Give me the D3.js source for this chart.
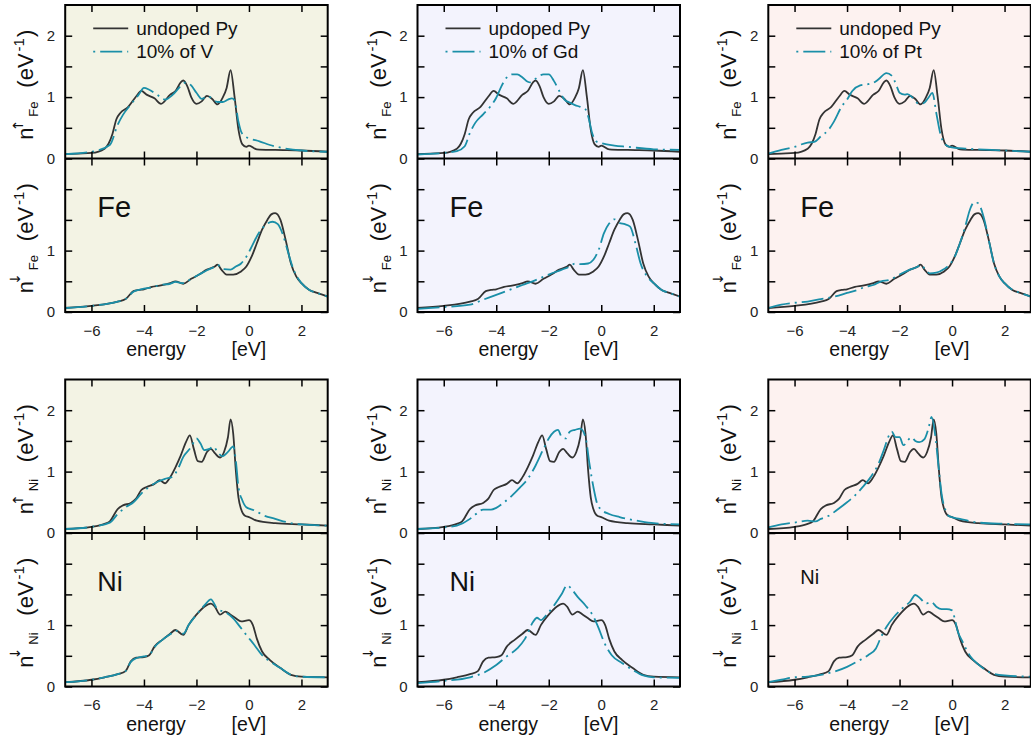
<!DOCTYPE html>
<html>
<head>
<meta charset="utf-8">
<script src="https://cdn.jsdelivr.net/npm/d3@7"></script>
<style>
  body { margin: 0; background: #fff; }
  svg { display: block; font-family: "Liberation Sans", Arial, Helvetica, sans-serif; }
</style>
</head>
<body>
<svg id="chart" width="1031" height="741"></svg>
<script>
// ---- data: [energy (eV), partial DOS (1/eV)] ----
const columns = ["V", "Gd", "Pt"];
const refLabels = ["undoped Py", "updoped Py", "undoped Py"];
const dopLabels = ["10% of V", "10% of Gd", "10% of Pt"];
const elements = ["Fe", "Ni"];
const energyTicks = [-6, -4, -2, 0, 2];
const dosTicks = [0, 0.5, 1, 1.5, 2];

// undoped Py (same in every column)
const pyFeUp = [[-7,0.07],[-6.5,0.08],[-6,0.09],[-5.5,0.16],[-5.35,0.24],[-5.2,0.40],[-5.05,0.64],[-4.9,0.74],[-4.6,0.84],[-4.3,1.01],[-4.1,1.10],[-3.9,1.04],[-3.6,0.98],[-3.35,0.89],[-3.0,1.04],[-2.8,1.10],[-2.6,1.24],[-2.5,1.27],[-2.35,1.18],[-2.2,1.00],[-2.0,0.89],[-1.8,0.93],[-1.6,1.02],[-1.4,0.97],[-1.2,0.88],[-1.0,0.99],[-0.85,1.15],[-0.7,1.44],[-0.55,1.01],[-0.4,0.47],[-0.25,0.23],[-0.1,0.19],[0,0.21],[0.3,0.15],[1,0.14],[2,0.13],[3,0.11]];
const pyFeDn = [[-7,0.065],[-6,0.10],[-5,0.17],[-4.7,0.21],[-4.4,0.34],[-4.2,0.36],[-4.0,0.37],[-3.7,0.41],[-3.4,0.43],[-3.0,0.47],[-2.8,0.50],[-2.5,0.46],[-2.2,0.54],[-1.9,0.61],[-1.6,0.69],[-1.3,0.74],[-1.2,0.77],[-1.05,0.69],[-0.85,0.61],[-0.6,0.61],[-0.3,0.66],[-0.1,0.74],[0.1,0.90],[0.3,1.12],[0.5,1.34],[0.7,1.50],[0.85,1.59],[1.0,1.61],[1.2,1.50],[1.4,1.17],[1.6,0.79],[1.8,0.58],[2.0,0.47],[2.3,0.36],[2.6,0.31],[3.0,0.25]];
const pyNiUp = [[-7,0.065],[-6,0.10],[-5.5,0.15],[-5.3,0.19],[-5.0,0.39],[-4.8,0.45],[-4.5,0.49],[-4.3,0.56],[-4.1,0.70],[-3.9,0.75],[-3.6,0.80],[-3.4,0.86],[-3.2,0.81],[-3.0,0.91],[-2.8,1.07],[-2.6,1.26],[-2.4,1.48],[-2.25,1.59],[-2.1,1.37],[-1.95,1.17],[-1.8,1.16],[-1.6,1.32],[-1.45,1.37],[-1.3,1.30],[-1.1,1.23],[-0.95,1.32],[-0.8,1.56],[-0.7,1.85],[-0.6,1.62],[-0.5,1.02],[-0.4,0.58],[-0.3,0.39],[-0.15,0.28],[0,0.26],[0.3,0.20],[1,0.16],[2,0.14],[3,0.12]];
const pyNiDn = [[-7,0.07],[-6,0.11],[-5.5,0.15],[-5.0,0.20],[-4.7,0.25],[-4.5,0.41],[-4.3,0.47],[-4.0,0.48],[-3.8,0.51],[-3.6,0.65],[-3.3,0.76],[-3.0,0.86],[-2.8,0.92],[-2.5,0.84],[-2.3,1.00],[-2.0,1.17],[-1.7,1.30],[-1.45,1.35],[-1.3,1.30],[-1.1,1.17],[-0.9,1.22],[-0.7,1.17],[-0.5,1.11],[-0.3,1.06],[0,1.08],[0.15,1.00],[0.3,0.78],[0.5,0.57],[0.8,0.43],[1.2,0.30],[1.6,0.19],[2.0,0.16],[3.0,0.15]];

// 10% of V
const vFeUp = [[-7,0.07],[-6,0.11],[-5.3,0.22],[-5.0,0.55],[-4.8,0.71],[-4.5,0.88],[-4.2,1.04],[-4.0,1.15],[-3.8,1.12],[-3.5,1.04],[-3.2,0.96],[-2.9,1.04],[-2.6,1.18],[-2.4,1.24],[-2.2,1.19],[-2.0,1.07],[-1.8,0.97],[-1.6,1.01],[-1.4,0.98],[-1.2,0.92],[-1.0,0.92],[-0.8,0.96],[-0.65,0.98],[-0.55,0.95],[-0.4,0.60],[-0.3,0.44],[-0.15,0.36],[0,0.33],[0.4,0.28],[0.8,0.22],[1.3,0.17],[2,0.13],[3,0.11]];
const vFeDn = [[-7,0.065],[-6,0.10],[-5,0.17],[-4.7,0.21],[-4.4,0.33],[-4.2,0.36],[-4.0,0.38],[-3.7,0.40],[-3.4,0.44],[-3.0,0.46],[-2.8,0.49],[-2.5,0.47],[-2.2,0.54],[-1.9,0.61],[-1.6,0.68],[-1.3,0.74],[-1.2,0.77],[-1.0,0.70],[-0.7,0.69],[-0.5,0.74],[-0.3,0.79],[-0.1,0.90],[0.1,1.06],[0.3,1.23],[0.5,1.36],[0.7,1.44],[0.9,1.47],[1.1,1.43],[1.3,1.25],[1.5,0.96],[1.7,0.69],[2.0,0.47],[2.3,0.36],[2.6,0.31],[3.0,0.25]];
const vNiUp = [[-7,0.065],[-6,0.10],[-5.3,0.17],[-5.0,0.31],[-4.7,0.42],[-4.4,0.50],[-4.1,0.64],[-3.8,0.75],[-3.5,0.83],[-3.2,0.88],[-2.9,0.92],[-2.7,1.05],[-2.5,1.24],[-2.2,1.40],[-2.0,1.54],[-1.85,1.46],[-1.7,1.35],[-1.5,1.37],[-1.35,1.41],[-1.2,1.32],[-1.0,1.25],[-0.8,1.32],[-0.6,1.41],[-0.5,1.18],[-0.4,0.75],[-0.25,0.53],[-0.1,0.42],[0.2,0.37],[0.6,0.28],[1.0,0.23],[1.5,0.17],[2.0,0.14],[3,0.12]];
const vNiDn = [[-7,0.07],[-6,0.11],[-5.5,0.15],[-5.0,0.20],[-4.7,0.25],[-4.5,0.40],[-4.3,0.46],[-4.0,0.49],[-3.8,0.51],[-3.6,0.64],[-3.3,0.76],[-3.0,0.85],[-2.8,0.91],[-2.5,0.86],[-2.3,1.00],[-2.0,1.17],[-1.7,1.32],[-1.45,1.42],[-1.2,1.26],[-0.9,1.21],[-0.6,1.11],[-0.3,0.95],[-0.1,0.84],[0.2,0.68],[0.5,0.51],[0.8,0.41],[1.2,0.30],[1.6,0.19],[2.0,0.16],[3.0,0.15]];

// 10% of Gd
const gdFeUp = [[-7,0.065],[-6,0.09],[-5.5,0.12],[-5.2,0.20],[-5.0,0.42],[-4.8,0.58],[-4.5,0.72],[-4.2,0.86],[-4.0,0.99],[-3.8,1.18],[-3.6,1.32],[-3.4,1.37],[-3.2,1.37],[-3.0,1.32],[-2.8,1.25],[-2.7,1.24],[-2.5,1.30],[-2.2,1.37],[-2.0,1.37],[-1.8,1.26],[-1.6,1.10],[-1.4,0.96],[-1.2,0.91],[-1.0,0.87],[-0.8,0.84],[-0.6,0.80],[-0.5,0.69],[-0.35,0.42],[-0.2,0.28],[0,0.25],[0.5,0.21],[1,0.19],[2,0.15],[3,0.14]];
const gdFeDn = [[-7,0.05],[-6,0.08],[-5,0.12],[-4.5,0.20],[-4.0,0.28],[-3.5,0.36],[-3.0,0.44],[-2.5,0.52],[-2.0,0.61],[-1.5,0.69],[-1.2,0.74],[-1.0,0.79],[-0.8,0.78],[-0.5,0.79],[-0.3,0.85],[-0.1,1.01],[0.1,1.28],[0.3,1.44],[0.5,1.51],[0.7,1.45],[0.9,1.43],[1.1,1.39],[1.3,1.12],[1.5,0.79],[1.8,0.55],[2.0,0.47],[2.3,0.36],[2.6,0.31],[3.0,0.25]];
const gdNiUp = [[-7,0.065],[-6,0.09],[-5.5,0.12],[-5.0,0.23],[-4.8,0.30],[-4.5,0.38],[-4.2,0.38],[-4.0,0.41],[-3.7,0.50],[-3.4,0.61],[-3.1,0.74],[-2.8,0.88],[-2.5,1.10],[-2.2,1.37],[-2.0,1.54],[-1.8,1.65],[-1.65,1.68],[-1.5,1.56],[-1.35,1.54],[-1.2,1.65],[-1.0,1.68],[-0.8,1.70],[-0.6,1.56],[-0.45,1.13],[-0.3,0.75],[-0.15,0.47],[0,0.38],[0.3,0.31],[0.7,0.26],[1.0,0.23],[1.5,0.19],[2.0,0.16],[3,0.14]];
const gdNiDn = [[-7,0.054],[-6,0.09],[-5,0.15],[-4.5,0.22],[-4.0,0.35],[-3.6,0.49],[-3.2,0.62],[-2.9,0.78],[-2.6,1.05],[-2.45,1.12],[-2.3,1.08],[-2.1,1.16],[-1.8,1.32],[-1.5,1.51],[-1.3,1.65],[-1.1,1.57],[-0.9,1.46],[-0.6,1.32],[-0.3,1.14],[-0.1,0.95],[0.1,0.73],[0.4,0.51],[0.8,0.38],[1.2,0.27],[1.6,0.18],[2.0,0.15],[3.0,0.14]];

// 10% of Pt
const ptFeUp = [[-7,0.08],[-6.5,0.14],[-6,0.19],[-5.5,0.26],[-5.25,0.27],[-5.0,0.36],[-4.7,0.47],[-4.5,0.60],[-4.2,0.85],[-4.0,0.96],[-3.8,1.10],[-3.5,1.19],[-3.2,1.21],[-3.0,1.23],[-2.8,1.29],[-2.5,1.39],[-2.3,1.35],[-2.1,1.17],[-2.0,1.07],[-1.8,1.04],[-1.7,1.05],[-1.5,0.99],[-1.3,0.90],[-1.1,0.90],[-0.9,0.99],[-0.75,1.07],[-0.6,0.74],[-0.45,0.41],[-0.3,0.25],[-0.1,0.19],[0.5,0.16],[1,0.15],[2,0.13],[3,0.11]];
const ptFeDn = [[-7,0.065],[-6.5,0.12],[-6,0.15],[-5.5,0.17],[-5,0.21],[-4.5,0.25],[-4.0,0.31],[-3.6,0.36],[-3.3,0.41],[-3.0,0.44],[-2.7,0.50],[-2.4,0.52],[-2.0,0.61],[-1.6,0.69],[-1.3,0.74],[-1.2,0.77],[-1.05,0.71],[-0.85,0.63],[-0.6,0.64],[-0.3,0.70],[-0.1,0.77],[0.1,0.90],[0.3,1.12],[0.5,1.39],[0.7,1.69],[0.85,1.79],[1.0,1.77],[1.2,1.55],[1.4,1.17],[1.6,0.79],[1.8,0.58],[2.0,0.47],[2.3,0.36],[2.6,0.31],[3.0,0.25]];
const ptNiUp = [[-7,0.09],[-6.5,0.14],[-6,0.17],[-5.5,0.20],[-5.2,0.19],[-5.0,0.23],[-4.7,0.28],[-4.4,0.37],[-4.0,0.50],[-3.7,0.61],[-3.4,0.75],[-3.1,0.91],[-2.8,1.13],[-2.6,1.35],[-2.4,1.59],[-2.3,1.65],[-2.15,1.56],[-2.0,1.56],[-1.85,1.43],[-1.7,1.50],[-1.55,1.56],[-1.4,1.50],[-1.25,1.48],[-1.05,1.53],[-0.9,1.70],[-0.78,1.89],[-0.65,1.62],[-0.5,1.02],[-0.4,0.64],[-0.25,0.37],[-0.1,0.27],[0.3,0.23],[1,0.17],[2,0.15],[3,0.14]];
const ptNiDn = [[-7,0.07],[-6.5,0.11],[-6,0.15],[-5.5,0.16],[-5,0.19],[-4.5,0.24],[-4.0,0.32],[-3.6,0.41],[-3.2,0.51],[-2.9,0.62],[-2.7,0.81],[-2.5,0.97],[-2.2,1.14],[-1.9,1.27],[-1.6,1.38],[-1.4,1.49],[-1.2,1.43],[-1.0,1.35],[-0.8,1.38],[-0.6,1.30],[-0.4,1.26],[-0.2,1.26],[0,1.24],[0.1,1.11],[0.2,0.92],[0.4,0.73],[0.7,0.49],[1.0,0.36],[1.5,0.22],[2.0,0.18],[3.0,0.16]];

const undoped = { Fe: [pyFeUp, pyFeDn], Ni: [pyNiUp, pyNiDn] };
const doped = {
  Fe: [[vFeUp, vFeDn], [gdFeUp, gdFeDn], [ptFeUp, ptFeDn]],
  Ni: [[vNiUp, vNiDn], [gdNiUp, gdNiDn], [ptNiUp, ptNiDn]]
};

// ---- layout ----
const colLeft = [65.2, 417.5, 768.3];
const plotW = 262.5;
const rowTop = [5, 379.5];
const panelH = 153.5;
const bgColors = ["#f3f3e4", "#f3f3fd", "#fdf2f0"];
const refColor = "#333333";
const dopColor = "#1a8fa8";
const dashDot = "22,5,2,5";
const elemSize = [[29, 29, 29], [27, 27, 20]];

const svg = d3.select("#chart");
const defs = svg.append("defs");
let clipId = 0;

function yLabel(g, x0, cy, sub, up) {
  const t = g.append("g").attr("transform", `translate(${x0},${cy}) rotate(-90)`)
    .attr("fill", "#111");
  t.append("text").attr("x", -56).attr("y", 0).attr("font-size", 22).text("n");
  t.append("text").attr("x", -47.5).attr("y", up ? -10 : -13).attr("font-size", 14)
    .attr("font-family", "DejaVu Sans, sans-serif")
    .text(up ? "\u2191" : "\u2193");
  t.append("text").attr("x", -33).attr("y", 5).attr("font-size", 13).text(sub);
  const u = t.append("text").attr("x", 54).attr("y", 0).attr("font-size", 22)
    .attr("text-anchor", "end");
  u.append("tspan").text("(eV");
  u.append("tspan").attr("font-size", 15).attr("dx", 2).attr("dy", -9).text("-1");
  u.append("tspan").attr("dx", 1).attr("dy", 9).text(")");
}

columns.forEach((col, c) => {
  const xL = colLeft[c];
  const x = d3.scaleLinear().domain([-7, 3]).range([xL, xL + plotW]);

  elements.forEach((el, r) => {
    const top = rowTop[r];
    const g = svg.append("g");
    g.append("rect").attr("x", xL).attr("y", top).attr("width", plotW)
      .attr("height", 2 * panelH).attr("fill", bgColors[c]);

    [0, 1].forEach(p => {
      const pTop = top + p * panelH;
      const pBot = pTop + panelH;
      const y = d3.scaleLinear().domain([0, 2.5]).range([pBot, pTop]);

      const id = "clip" + (clipId++);
      defs.append("clipPath").attr("id", id).append("rect")
        .attr("x", xL).attr("y", pTop).attr("width", plotW).attr("height", panelH);

      const line = d3.line().x(d => x(d[0])).y(d => y(d[1])).curve(d3.curveMonotoneX);
      const lg = g.append("g").attr("clip-path", `url(#${id})`);
      lg.append("path").datum(undoped[el][p]).attr("d", line)
        .attr("fill", "none").attr("stroke", refColor).attr("stroke-width", 1.8);
      lg.append("path").datum(doped[el][c][p]).attr("d", line)
        .attr("fill", "none").attr("stroke", dopColor).attr("stroke-width", 1.8)
        .attr("stroke-dasharray", dashDot);

      // y axes (ticks inward)
      const yl = p === 0 ? [0, 1, 2] : [0, 1];
      const axL = g.append("g").attr("transform", `translate(${xL},0)`)
        .call(d3.axisLeft(y).tickValues(dosTicks).tickSize(-7).tickSizeOuter(0).tickPadding(10)
          .tickFormat(d => yl.includes(d) ? d3.format("d")(d) : ""));
      const axR = g.append("g").attr("transform", `translate(${xL + plotW},0)`)
        .call(d3.axisRight(y).tickValues(dosTicks).tickSize(-7).tickSizeOuter(0).tickFormat(""));

      // x ticks on top/bottom edge of each panel
      const axT = g.append("g").attr("transform", `translate(0,${pTop})`)
        .call(d3.axisTop(x).tickValues(energyTicks).tickSize(-7).tickSizeOuter(0).tickFormat(""));
      const axB = g.append("g").attr("transform", `translate(0,${pBot})`)
        .call(d3.axisBottom(x).tickValues(energyTicks).tickSize(-7).tickSizeOuter(0).tickPadding(13)
          .tickFormat(p === 1 ? d3.format("d") : ""));

      [axL, axR, axT, axB].forEach(a => {
        a.select(".domain").remove();
        a.selectAll(".tick line").attr("stroke", "#000").attr("stroke-width", 1.5);
        a.selectAll("text").attr("font-size", 15).attr("fill", "#222")
          .attr("font-family", "Liberation Sans, Arial, sans-serif");
      });

      yLabel(g, xL - 32, pTop + panelH / 2 + 2, el, p === 0);
    });

    // frame
    g.append("rect").attr("x", xL).attr("y", top).attr("width", plotW)
      .attr("height", 2 * panelH).attr("fill", "none").attr("stroke", "#000").attr("stroke-width", 2);
    g.append("line").attr("x1", xL).attr("x2", xL + plotW)
      .attr("y1", top + panelH).attr("y2", top + panelH).attr("stroke", "#000").attr("stroke-width", 2);

    // element label
    g.append("text").attr("x", xL + 32).attr("y", top + panelH + (elemSize[r][c] > 22 ? 58 : 51))
      .attr("font-size", elemSize[r][c]).attr("fill", "#111").text(el);

    // x axis title
    const bot = top + 2 * panelH;
    g.append("text").attr("x", xL + 61).attr("y", bot + 44).attr("font-size", 19.5)
      .attr("fill", "#111").text("energy");
    g.append("text").attr("x", xL + 201).attr("y", bot + 44).attr("font-size", 19.5)
      .attr("text-anchor", "end").attr("fill", "#111").text("[eV]");

    // legend (Fe row only)
    if (r === 0) {
      const leg = [[refLabels[c], refColor, null], [dopLabels[c], dopColor, dashDot]];
      leg.forEach((d, i) => {
        const ly = top + 23.3 + i * 23.4;
        g.append("line").attr("x1", xL + 28).attr("x2", xL + 63).attr("y1", ly).attr("y2", ly)
          .attr("stroke", d[1]).attr("stroke-width", 1.8)
          .attr("stroke-dasharray", d[2] ? "2,5,22,5" : null);
        g.append("text").attr("x", xL + 71).attr("y", ly + 6.5).attr("font-size", 19)
          .attr("fill", "#111").text(d[0]);
      });
    }
  });
});
</script>
</body>
</html>
